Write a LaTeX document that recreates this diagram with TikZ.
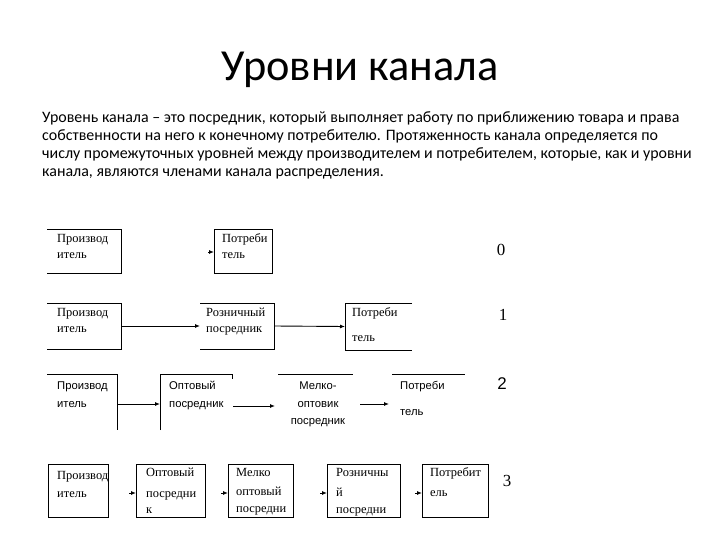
\documentclass[tikz,border=0pt]{standalone}
\usepackage{fontspec}
\setmainfont{Carlito}
\newfontfamily\boxserif{Liberation Serif}
\newfontfamily\boxsans{Liberation Sans}
\usetikzlibrary{arrows.meta}
\begin{document}
\begin{tikzpicture}[x=1bp,y=-1bp,
  frame/.style={inner sep=0pt,outer sep=0pt},
  edge/.style={line width=0.9bp,black},
  arr/.style={line width=0.9bp,black,-{Latex[length=5bp,width=4bp]}},
  bodyline/.style={anchor=base west,inner sep=0pt,font=\fontsize{16}{18}\selectfont},
  btxt/.style={anchor=base west,inner sep=0pt,font=\boxserif\fontsize{12.5}{14}\selectfont},
  bstxt/.style={anchor=base west,inner sep=0pt,font=\boxsans\fontsize{11.3}{13}\selectfont},
  num/.style={anchor=base,inner sep=0pt,font=\boxserif\fontsize{17}{20}\selectfont}]
\useasboundingbox[fill=white] (0,0) rectangle (720,540);
% title and text
\node[anchor=base,inner sep=0pt,font=\fontsize{44.5}{50}\selectfont] (title) at (360,81) {Уровни канала};
\node[bodyline] (l1) at (42,123) {Уровень канала – это посредник, который выполняет работу по приближению товара и права};
\node[bodyline] (l2) at (42,141) {собственности на него к конечному потребителю. Протяженность канала определяется по};
\node[bodyline] (l3) at (42,159) {числу промежуточных уровней между производителем и потребителем, которые, как и уровни};
\node[bodyline] (l4) at (42,177) {канала, являются членами канала распределения.};
% ---- row 0
\node[frame,minimum width=74bp,minimum height=44bp] (r0a) at (84,251) {};
\node[frame,minimum width=58bp,minimum height=44bp] (r0b) at (243,251) {};
\draw[edge] (r0a.north west) -- (r0a.north east) -- (r0a.south east) -- (r0a.south west);
\draw[edge] (r0b.north west) rectangle (r0b.south east);
\coordinate (r0s) at (208,252);
\draw[arr] (r0s) -- (r0b.west |- r0s);
\node[btxt] (t0a1) at (57,243) {Производ};
\node[btxt] (t0a2) at (57,259) {итель};
\node[btxt] (t0b1) at (222,243) {Потреби};
\node[btxt] (t0b2) at (222,259) {тель};
\node[num] (n0) at (501,256) {0};
% ---- row 1
\node[frame,minimum width=74bp,minimum height=46bp] (r1a) at (84,326) {};
\node[frame,minimum width=74bp,minimum height=46bp] (r1b) at (237,326) {};
\node[frame,minimum width=67bp,minimum height=47bp] (r1c) at (378.5,326.5) {};
\draw[edge] (r1a.north west) -- (r1a.north east) -- (r1a.south east) -- (r1a.south west);
\draw[edge] (r1b.north west) -- (r1b.north east) -- (r1b.south east) -- (r1b.south west);
\draw[edge] (r1c.north east) -- (r1c.north west) -- (r1c.south west) -- (r1c.south east);
\draw[arr] (r1a.east) -- (r1b.west);
\draw[arr] (r1b.east) -- (r1c.west);
\node[btxt] (t1a1) at (57,316) {Производ};
\node[btxt] (t1a2) at (57,332) {итель};
\node[btxt] (t1b1) at (206,316) {Розничный};
\node[btxt] (t1b2) at (206,332) {посредник};
\node[btxt] (t1c1) at (352,316) {Потреби};
\node[btxt] (t1c2) at (352,341) {тель};
\node[num] (n1) at (503,320) {1};
% ---- row 2
\node[frame,minimum width=70bp,minimum height=56bp] (r2a) at (82,402) {};
\node[frame,minimum width=72bp,minimum height=56bp] (r2b) at (196,402) {};
\node[frame,minimum width=75bp,minimum height=56bp] (r2c) at (315.5,402) {};
\node[frame,minimum width=73bp,minimum height=56bp] (r2d) at (428.5,402) {};
\draw[edge] (r2a.north west) -- (r2a.north east) -- (r2a.south east);
\draw[edge] (r2b.south west) -- (r2b.north west) -- (r2b.north east) -- ++(0,5);
\draw[edge] (r2c.north west) -- (r2c.north east);
\draw[edge] (r2d.north west) -- (r2d.north east);
\coordinate (r2s1) at (117,404);
\coordinate (r2s2) at (233,406);
\coordinate (r2s3) at (360,404);
\draw[arr] (r2s1) -- (r2b.west |- r2s1);
\draw[arr] (r2s2) -- (275,406) coordinate (r2e2);
\draw[arr] (r2s3) -- (389,404) coordinate (r2e3);
\node[bstxt] (t2a1) at (57,389) {Производ};
\node[bstxt] (t2a2) at (57,407) {итель};
\node[bstxt] (t2b1) at (169,389) {Оптовый};
\node[bstxt] (t2b2) at (169,407) {посредник};
\node[bstxt,anchor=base] (t2c1) at (318,389) {Мелко-};
\node[bstxt,anchor=base] (t2c2) at (318,407) {оптовик};
\node[bstxt,anchor=base] (t2c3) at (318,424) {посредник};
\node[bstxt] (t2d1) at (400,389) {Потреби};
\node[bstxt] (t2d2) at (400,415) {тель};
\node[num,font=\boxsans\fontsize{17}{20}\selectfont] (n2) at (502,389) {2};
% ---- row 3
\node[frame,minimum width=60bp,minimum height=53bp] (r3a) at (78,490.5) {};
\node[frame,minimum width=69bp,minimum height=53bp] (r3b) at (170.5,490.5) {};
\node[frame,minimum width=65bp,minimum height=53bp] (r3c) at (260.5,490.5) {};
\node[frame,minimum width=73bp,minimum height=53bp] (r3d) at (363.5,490.5) {};
\node[frame,minimum width=66bp,minimum height=53bp] (r3e) at (455,490.5) {};
\foreach \b in {r3a,r3b,r3c,r3d,r3e} \draw[edge] (\b.north west) rectangle (\b.south east);
\coordinate (r3s1) at (129,493);
\coordinate (r3s2) at (221,493);
\coordinate (r3s3) at (320,493);
\coordinate (r3s4) at (415,493);
\draw[arr] (r3s1) -- (r3b.west |- r3s1);
\draw[arr] (r3s2) -- (r3c.west |- r3s2);
\draw[arr] (r3s3) -- (r3d.west |- r3s3);
\draw[arr] (r3s4) -- (r3e.west |- r3s4);
\node[btxt] (t3a1) at (57,479) {Производ};
\node[btxt] (t3a2) at (57,497) {итель};
\node[btxt] (t3b1) at (146,476) {Оптовый};
\node[btxt] (t3b2) at (146,497) {посредни};
\node[btxt] (t3b3) at (146,513) {к};
\node[btxt] (t3c1) at (236,476) {Мелко};
\node[btxt] (t3c2) at (236,495) {оптовый};
\node[btxt] (t3c3) at (236,512) {посредни};
\node[btxt] (t3d1) at (336,476) {Розничны};
\node[btxt] (t3d2) at (336,496) {й};
\node[btxt] (t3d3) at (336,513) {посредни};
\node[btxt] (t3e1) at (430,476) {Потребит};
\node[btxt] (t3e2) at (430,496) {ель};
\node[num] (n3) at (507,486) {3};
\end{tikzpicture}
\end{document}
